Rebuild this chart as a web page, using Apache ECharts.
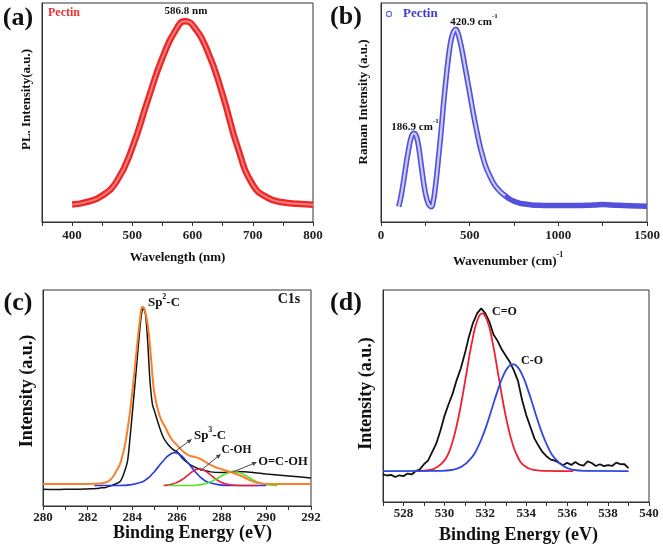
<!DOCTYPE html>
<html>
<head>
<meta charset="utf-8">
<script src="https://cdn.jsdelivr.net/npm/echarts@6/dist/echarts.min.js"></script>
<style>
 html,body{margin:0;padding:0;background:#fff;}
 #main{width:663px;height:550px;}
</style>
</head>
<body>
<div id="main"></div>
<script>
// (a) PL spectrum
var plX = [400,425,450,475,500,525,550,575,586.8,600,625,650,675,700,725,750,775,800];
var plY = [8.0,9.2,12,19,34,55,75,89,91.7,90,78,58,34,17,11,9,8.3,7.9];
var plTicks = [400,500,600,700,800];

// (b) Raman spectrum
var ramX = [100,110,120,130,140,150,160,170,180,186.9,195,205,215,225,235,245,255,265,275,284,
 295,305,315,325,335,345,355,365,375,385,395,405,415,420.9,430,440,450,460,470,480,490,500,
 515,530,545,560,575,590,605,620,640,660,680,700,725,750,775,800,850,900,950,1000,1100,1200,1250,1300,1400,1500];
var ramY = [7.0,10.5,15,20,25.5,30.5,35,38.5,40.3,40.5,40,37.5,33,27,21,15.5,11.5,8.8,7.4,7.0,
 9.5,15,22,30,38,47,56,64,71.5,78,83,86,87.6,88,87,84.5,81,77,72.5,68,63.5,59,
 52,45.5,39.5,34,29.5,25.5,22.5,20,17,15,13.3,12,10.5,9.5,8.8,8.3,7.8,7.6,7.5,7.5,7.5,7.8,8.0,7.8,7.4,7.2];
var ramTicks = [0,500,1000,1500];

// (c) C1s
var c1sRawX = [280,280.5,281,281.5,282,282.4,282.6,282.8,283,283.25,283.45,283.6,283.78,283.9,284,284.07,284.2,284.3,284.4,284.5,
 284.6,284.7,284.79,284.9,285,285.2,285.4,285.6,285.84,286,286.25,286.5,286.75,287,287.5,288,288.5,289,289.5,290,291,292];
var c1sRawY = [7.7,7.6,7.7,7.7,7.9,8.1,8.4,8.6,9.2,10.2,11.3,14.5,20.5,32,43,51,66,78,88,91.5,
 88,74,58,47,43.7,37,31.5,28.5,26,25.2,22,19.8,18.2,17.1,15.8,15.5,16,15.9,15.4,14.8,13.9,13];
var c1sFitX = [280,281,282,282.5,282.75,283,283.25,283.5,283.75,284,284.2,284.35,284.45,284.55,284.7,284.85,285,285.25,285.5,285.75,
 286,286.25,286.5,286.75,287,287.25,287.5,287.75,288,288.25,288.5,288.75,289,289.25,289.5,289.75,290,291,292];
var c1sFitY = [10.2,10.2,10.2,10.4,10.8,12,15.5,21,33,53,73,87,92.3,91,83,67,51.4,41,36,31,
 28.2,25.5,23.6,22.8,22,20.5,19,17.8,17,16.2,15.4,14.4,13.3,12,11,10.5,10.2,10.2,10.2];
var sp3X = [282.3,283.4,283.9,284.4,284.65,284.9,285.15,285.4,285.65,285.9,286.15,286.4,286.65,286.9,287.15,287.4,287.9,288.4,290];
var sp3Y = [9.5,9.5,9.8,11.0,12.5,14.9,18.0,21.1,23.6,24.7,23.6,21.1,18.0,14.9,12.5,11.0,9.8,9.5,9.5];
var cohX = [285.4,285.75,286,286.25,286.5,286.75,287,287.25,287.5,287.75,288,288.25,288.5,289,289.6];
var cohY = [9.5,10.0,10.9,12.4,14.4,16.3,17.1,16.3,14.4,12.4,10.9,10.0,9.7,9.5,9.5];
var ocohX = [285.6,286.5,287.05,287.3,287.55,287.8,288.05,288.3,288.55,288.8,289.05,289.3,289.55,289.8,290.05,290.5];
var ocohY = [9.5,9.5,9.9,10.45,11.4,12.7,14.2,15.4,15.9,15.4,14.2,12.7,11.4,10.45,9.9,9.55];
var c1sTicks = [280,282,284,286,288,290,292];

// (d) O1s
var o1sRawX = [527,527.2,527.4,527.6,527.8,528,528.2,528.4,528.6,528.8,529,529.2,529.4,529.6,529.8,530,530.2,530.4,530.6,530.8,
 531,531.2,531.4,531.6,531.8,532,532.2,532.4,532.6,532.8,533,533.2,533.4,533.6,533.8,534,534.2,534.4,534.6,534.8,
 535,535.2,535.4,535.6,535.8,536,536.2,536.4,536.6,536.8,537,537.2,537.4,537.6,537.8,538,538.2,538.4,538.6,538.8,539];
var o1sRawY = [13.0,12.5,12.8,11.8,12.6,12.2,13.4,13.0,14.6,15.4,17.8,19.5,23.5,27.5,33.5,40.5,46,51,57.5,63,
 70,78,84.5,89,91.3,89,85,79,76,72,69,66,62,57,48,41,35.5,30,26.5,23.5,
 21.5,20,19.5,18.5,17.3,18.5,17.5,18.9,17.6,17.2,19.2,18.4,17.0,17.8,16.9,17.4,17.0,18.6,17.9,17.8,16.0];
var cdoX = [528.7,529.3,529.8,530.1,530.35,530.6,530.85,531.1,531.35,531.6,531.84,532.1,532.35,532.6,532.85,533.1,533.35,533.6,533.85,534.35,534.85,536.3];
var cdoY = [14.7,15.1,17.6,21,26.9,36,48,62,75.5,85.4,89,85.4,75.5,62,48,36,26.9,21,17.6,15.1,14.7,14.6];
var coX = [527,529.85,530.35,530.85,531.35,531.6,531.85,532.1,532.35,532.6,532.85,533.1,533.35,533.6,533.85,534.1,534.35,534.6,534.85,535.1,535.35,535.85,536.35,536.85,539];
var coY = [14.6,14.7,15.1,16.7,21.2,25.2,30.6,37.3,44.9,52.4,59,63.4,65,63.4,59,52.4,44.9,37.3,30.6,25.2,21.2,16.7,15.1,14.7,14.6];
var o1sTicks = [528,530,532,534,536,538,540];

var FONT = '"Liberation Serif", "Times New Roman", serif';

function pair(xs, ys) {
	return xs.map(function (x, i) { return [x, ys[i]]; });
}
function onlyTicks(list) {
	return function (v) { return list.indexOf(v) >= 0 ? String(v) : ''; };
}
function xAx(idx, min, max, interval, formatter, minor, margin) {
	return {
		type: 'value', gridIndex: idx, min: min, max: max, interval: interval,
		axisLine: {lineStyle: {color: '#333', width: 1}},
		axisTick: {length: 4, lineStyle: {color: '#333'}},
		minorTick: {show: !!minor, splitNumber: 2, length: 4, lineStyle: {color: '#333'}},
		axisLabel: {margin: margin, color: '#222', fontFamily: FONT, fontWeight: 'bold', fontSize: 13, formatter: formatter},
		splitLine: {show: false}
	};
}
function yAx(idx) {
	return {
		type: 'value', gridIndex: idx, min: 0, max: 100,
		axisLine: {show: true, lineStyle: {color: '#333', width: 1}},
		axisTick: {show: false}, axisLabel: {show: false}, splitLine: {show: false}
	};
}
function line(idx, data, color, width, smooth, z) {
	return {
		type: 'line', xAxisIndex: idx, yAxisIndex: idx, data: data, showSymbol: false,
		smooth: smooth, lineStyle: {color: color, width: width}, z: z || 2, silent: true
	};
}
function txt(x, y, text, size, opts) {
	opts = opts || {};
	return {
		type: 'text', x: x, y: y, rotation: opts.rot || 0, z: 100,
		style: {
			text: text, fill: opts.color || '#111',
			font: 'bold ' + size + 'px ' + FONT,
			textAlign: opts.align || 'center', textVerticalAlign: opts.valign || 'middle',
			rich: opts.rich
		}
	};
}
function supRich(size) {
	return {
		n: {fontFamily: FONT, fontWeight: 'bold', fontSize: size, lineHeight: size + 4, verticalAlign: 'bottom', fill: '#111'},
		s: {fontFamily: FONT, fontWeight: 'bold', fontSize: Math.round(size * 0.62), lineHeight: size + 4, verticalAlign: 'top', fill: '#111'}
	};
}
function arrow(x1, y1, x2, y2) {
	var a = Math.atan2(y2 - y1, x2 - x1), L = 5, W = 2.2;
	var bx = x2 - L * Math.cos(a), by = y2 - L * Math.sin(a);
	return [
		{type: 'line', z: 100, shape: {x1: x1, y1: y1, x2: bx, y2: by}, style: {stroke: '#444', lineWidth: 1}},
		{type: 'polygon', z: 100, shape: {points: [[x2, y2],
			[bx + W * Math.sin(a), by - W * Math.cos(a)], [bx - W * Math.sin(a), by + W * Math.cos(a)]]},
			style: {fill: '#444'}}
	];
}

var ramInner = pair(ramX, ramY).filter(function (p) { return p[0] <= 700; });

var graphics = [
	txt(18, 18, '(a)', 26),
	txt(346, 17, '(b)', 26),
	txt(18, 303, '(c)', 26),
	txt(346, 303, '(d)', 26),
	txt(48, 13, 'Pectin', 12, {color: '#f03030', align: 'left'}),
	txt(186, 11, '586.8 nm', 11),
	{type: 'circle', z: 100, shape: {cx: 389, cy: 14, r: 2.6}, style: {fill: 'none', stroke: '#7070e0', lineWidth: 1.2}},
	txt(403, 14, 'Pectin', 13, {color: '#3b3bd6', align: 'left'}),
	txt(474, 20, '{n|420.9 cm}{s|-1}', 11, {rich: supRich(11)}),
	txt(415, 125, '{n|186.9 cm}{s|-1}', 11, {rich: supRich(11)}),
	txt(27, 99.5, 'PL. Intensity(a.u.)', 13, {rot: Math.PI / 2}),
	txt(364, 102, 'Raman Intensity (a.u.)', 13, {rot: Math.PI / 2}),
	txt(177.5, 251, 'Wavelength (nm)', 13, {valign: 'top'}),
	txt(453, 251, '{n|Wavenumber (cm)}{s|-1}', 13, {align: 'left', valign: 'top', rich: supRich(13)}),
	txt(27, 391, 'Intensity (a.u.)', 18, {rot: Math.PI / 2}),
	txt(366, 393.5, 'Intensity (a.u.)', 18, {rot: Math.PI / 2}),
	txt(192.5, 524, 'Binding Energy (eV)', 18, {valign: 'top'}),
	txt(518.5, 526, 'Binding Energy (eV)', 18, {valign: 'top'}),
	txt(164, 301, '{n|Sp}{s|2}{n|-C}', 13, {rich: supRich(13)}),
	txt(289, 299, 'C1s', 14),
	txt(210, 434, '{n|Sp}{s|3}{n|-C}', 13, {rich: supRich(13)}),
	txt(236.5, 450, 'C-OH', 11.5),
	txt(283, 462, 'O=C-OH', 12.5),
	txt(504.5, 312, 'C=O', 12),
	txt(532, 361, 'C-O', 12)
].concat(arrow(173, 453, 192, 439), arrow(200, 471, 221, 454), arrow(233, 472, 257, 462));

var option = {
	animation: false,
	backgroundColor: '#fff',
	grid: [
		{left: 42, top: 3, width: 271, height: 219, show: true, borderColor: '#333', borderWidth: 1},
		{left: 381, top: 3, width: 268, height: 219, show: true, borderColor: '#333', borderWidth: 1},
		{left: 43, top: 290, width: 268, height: 216, show: true, borderColor: '#333', borderWidth: 1},
		{left: 383, top: 290, width: 266, height: 212, show: true, borderColor: '#333', borderWidth: 1}
	],
	xAxis: [
		xAx(0, 350, 800, 50, onlyTicks(plTicks), false, 7),
		xAx(1, 0, 1500, 500, onlyTicks(ramTicks), true, 7),
		xAx(2, 280, 292, 2, onlyTicks(c1sTicks), true, 5),
		xAx(3, 527, 540, 1, onlyTicks(o1sTicks), false, 5)
	],
	yAxis: [yAx(0), yAx(1), yAx(2), yAx(3)],
	graphic: graphics,
	series: [
		line(0, pair(plX, plY), '#ee2626', 6.5, true, 2),
		line(0, pair(plX, plY), '#f47d7d', 2, true, 3),
		line(1, pair(ramX, ramY), '#5252dc', 5.5, true, 2),
		line(1, ramInner, '#cbcbf3', 2.2, true, 3),
		line(2, pair(c1sRawX, c1sRawY), '#111111', 1.5, 0.3, 2),
		line(2, pair(sp3X, sp3Y), '#2438e6', 1.6, true, 3),
		line(2, pair(cohX, cohY), '#ea1f3c', 1.6, true, 3),
		line(2, pair(ocohX, ocohY), '#55e02a', 1.6, true, 3),
		line(2, pair(c1sFitX, c1sFitY), '#f7802c', 2, true, 4),
		line(3, pair(o1sRawX, o1sRawY), '#111111', 1.8, false, 2),
		line(3, pair(cdoX, cdoY), '#f0202e', 1.8, true, 3),
		line(3, pair(coX, coY), '#3048e2', 1.8, true, 4)
	]
};

var myChart = echarts.init(document.getElementById('main'));
myChart.setOption(option);
</script>
</body>
</html>
